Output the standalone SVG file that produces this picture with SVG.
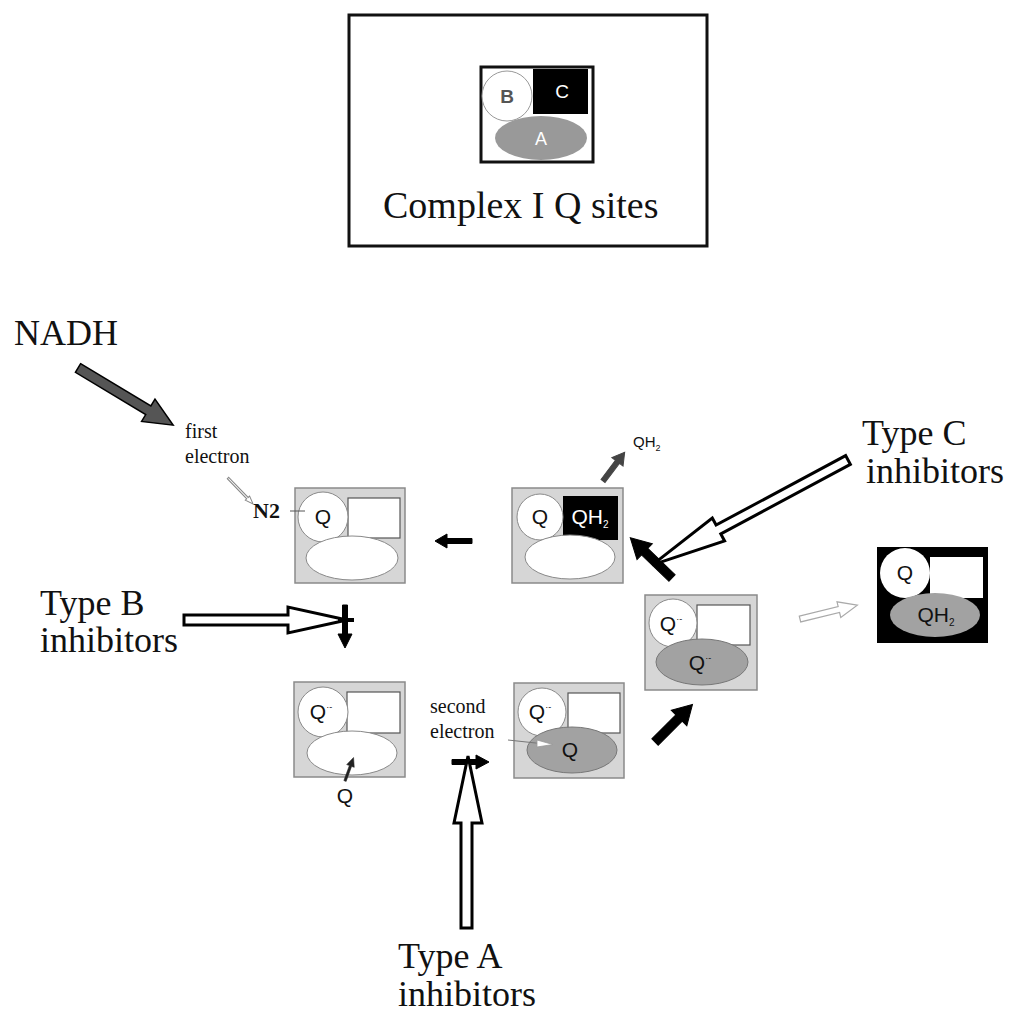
<svg xmlns="http://www.w3.org/2000/svg" width="1011" height="1018" viewBox="0 0 1011 1018">
<style>
.serif{font-family:"Liberation Serif","Times New Roman",serif;fill:#111}
.sans{font-family:"Liberation Sans",Arial,sans-serif;fill:#111}
.big{font-size:36px}
.small{font-size:20px}
.q{font-size:21px;text-anchor:middle}
.box{fill:#d6d6d6;stroke:#8a8a8a;stroke-width:1.5}
.wc{fill:#fff;stroke:#8a8a8a;stroke-width:1}
.wr{fill:#fff;stroke:#555;stroke-width:1.2}
.ge{fill:#a2a2a2;stroke:#777;stroke-width:1}
.hollow{fill:#fff;stroke:#000;stroke-width:3;stroke-linejoin:miter}
.solid{fill:#000;stroke:#000;stroke-width:1}
</style>

<g id="legend">
<rect x="349" y="15" width="358" height="231" fill="#fff" stroke="#111" stroke-width="3"/>
<rect x="481" y="67" width="112" height="95" fill="#fff" stroke="#111" stroke-width="3"/>
<rect x="533" y="69" width="55" height="45" fill="#000"/>
<circle cx="507" cy="96" r="25" fill="#fff" stroke="#999" stroke-width="1"/>
<ellipse cx="541" cy="138" rx="46" ry="22" fill="#999"/>
<text x="507" y="103" class="sans" style="font-size:19px;font-weight:bold;fill:#555" text-anchor="middle">B</text>
<text x="562" y="98" class="sans" style="font-size:19px;fill:#fff" text-anchor="middle">C</text>
<text x="541" y="145" class="sans" style="font-size:18px;fill:#fff" text-anchor="middle">A</text>
<text x="383" y="218" class="serif" style="font-size:38px">Complex I Q sites</text>
</g>

<g id="labels">
<text x="14" y="345" class="serif big">NADH</text>
<text x="185" y="438" class="serif small">first</text>
<text x="185" y="463" class="serif small">electron</text>
<text x="40" y="615" class="serif big">Type B</text>
<text x="40" y="652" class="serif big">inhibitors</text>
<text x="862" y="445" class="serif big">Type C</text>
<text x="866" y="483" class="serif big">inhibitors</text>
<text x="398" y="968" class="serif big">Type A</text>
<text x="398" y="1006" class="serif big">inhibitors</text>
<text x="430" y="713" class="serif small">second</text>
<text x="430" y="738" class="serif small">electron</text>
<text x="253" y="518" class="serif" style="font-size:22px;font-weight:bold">N2</text>
<text x="633" y="447" class="sans" style="font-size:15px">QH<tspan dy="4" style="font-size:9px">2</tspan></text>
<text x="345" y="803" class="sans q">Q</text>
</g>

<g id="node-n2q">
<rect x="295" y="488" width="110" height="95" class="box"/>
<rect x="348" y="498" width="52" height="40" class="wr"/>
<circle cx="323" cy="517" r="25" class="wc"/>
<ellipse cx="352" cy="558" rx="46" ry="22" class="wc"/>
<text x="323" y="524" class="sans q">Q</text>
</g>

<g id="node-qh2">
<rect x="512" y="488" width="111" height="95" class="box"/>
<rect x="563" y="496" width="55" height="44" fill="#000"/>
<circle cx="540" cy="517" r="23" class="wc"/>
<ellipse cx="570" cy="557" rx="45" ry="22" class="wc"/>
<text x="540" y="524" class="sans q">Q</text>
<text x="590" y="524" class="sans q" style="fill:#fff">QH<tspan dy="4" style="font-size:10px">2</tspan></text>
</g>

<g id="node-qminus">
<rect x="294" y="682" width="111" height="95" class="box"/>
<rect x="347" y="692" width="53" height="41" class="wr"/>
<circle cx="323" cy="712" r="25" class="wc"/>
<ellipse cx="352" cy="753" rx="45" ry="22" class="wc"/>
<text x="321" y="719" class="sans q">Q<tspan dy="-9" style="font-size:9px">·-</tspan></text>
</g>

<g id="node-second">
<rect x="514" y="683" width="110" height="95" class="box"/>
<rect x="568" y="693" width="52" height="40" class="wr"/>
<circle cx="542" cy="712" r="24" class="wc"/>
<ellipse cx="572" cy="750" rx="45" ry="23" class="ge"/>
<text x="540" y="719" class="sans q">Q<tspan dy="-9" style="font-size:9px">·-</tspan></text>
<text x="570" y="757" class="sans q">Q</text>
</g>

<g id="node-semiq">
<rect x="645" y="595" width="112" height="95" class="box"/>
<rect x="697" y="605" width="53" height="40" class="wr"/>
<circle cx="673" cy="623" r="24" class="wc"/>
<ellipse cx="702" cy="662" rx="46" ry="23" class="ge"/>
<text x="671" y="631" class="sans q">Q<tspan dy="-9" style="font-size:9px">·-</tspan></text>
<text x="700" y="670" class="sans q">Q<tspan dy="-9" style="font-size:9px">·-</tspan></text>
</g>

<g id="node-final">
<rect x="877" y="547" width="111" height="96" fill="#000"/>
<rect x="930" y="557" width="53" height="41" fill="#fff"/>
<circle cx="905" cy="573" r="25" fill="#fff"/>
<ellipse cx="935" cy="615" rx="45" ry="22" fill="#a2a2a2"/>
<text x="905" y="580" class="sans q">Q</text>
<text x="936" y="622" class="sans q">QH<tspan dy="4" style="font-size:10px">2</tspan></text>
</g>

<g id="connectors">
<path d="M0,-5 L82,-5 L82,-13 L111,0 L82,13 L82,5 L0,5 Z" transform="translate(78,368) rotate(31)" fill="#555" stroke="#000" stroke-width="1.5"/>
<path d="M0,-1 L28,-1 L28,-3 L36,0 L28,3 L28,1 L0,1 Z" transform="translate(228,478) rotate(46)" fill="#fff" stroke="#888" stroke-width="1"/>
<line x1="290" y1="511" x2="305" y2="511" stroke="#555" stroke-width="1"/>
<path d="M0,-2.5 L24,-2.5 L24,-7 L36,0 L24,7 L24,2.5 L0,2.5 Z" transform="translate(603,481) rotate(-53)" fill="#444" stroke="#444" stroke-width="1"/>
<path d="M472,538.5 L447,538.5 L447,534 L435,541 L447,548 L447,543.5 L472,543.5 Z" class="solid"/>
<path d="M342.5,605 L342.5,634 L338,634 L345,648 L352,634 L347.5,634 L347.5,605 Z" class="solid"/>
<path d="M184,615 L288,615 L288,607 L347,620 L288,633 L288,625 L184,625 Z" class="hollow"/>
<line x1="338" y1="620" x2="354" y2="620" stroke="#000" stroke-width="4"/>
<path d="M0,-1.2 L16,-1.2 L16,-4 L25,0 L16,4 L16,1.2 L0,1.2 Z" transform="translate(345,781) rotate(-70)" fill="#222" stroke="#222" stroke-width="0.5"/>
<line x1="508" y1="740" x2="545" y2="744" stroke="#777" stroke-width="1"/>
<path d="M537,740 L553,744.5 L537,747 Z" fill="#fff" stroke="#999" stroke-width="0.8"/>
<path d="M452,759.5 L476,759.5 L476,755 L489,762 L476,769 L476,764.5 L452,764.5 Z" class="solid"/>
<path d="M461,928 L461,823 L454,823 L468,756 L482,823 L472,823 L472,928 Z" class="hollow"/>
<line x1="461" y1="761" x2="475" y2="761" stroke="#000" stroke-width="4"/>
<path d="M0,-4.5 L34,-4.5 L34,-11 L53,0 L34,11 L34,4.5 L0,4.5 Z" transform="translate(655,742) rotate(-45)" class="solid"/>
<path d="M0,-4.5 L38,-4.5 L38,-11 L58,0 L38,11 L38,4.5 L0,4.5 Z" transform="translate(672,578) rotate(-136)" class="solid"/>
<path d="M0,-5 L147,-5 L147,-13 L222,0 L147,13 L147,5 L0,5 Z" transform="translate(848,460) rotate(151.8)" class="hollow"/>
<path d="M0,-3 L40,-3 L40,-8 L59,0 L40,8 L40,3 L0,3 Z" transform="translate(800,619) rotate(-13.6)" fill="#fff" stroke="#aaa" stroke-width="1.2"/>
</g>
</svg>
